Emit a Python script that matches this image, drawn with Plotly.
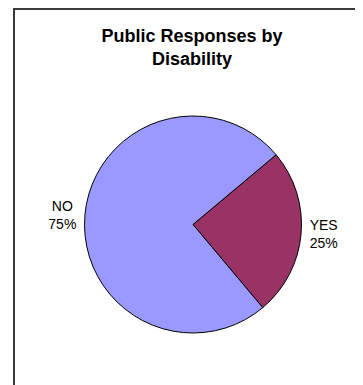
import plotly.graph_objects as go

labels = ["YES", "NO"]
values = [25, 75]
colors = ["#993366", "#9999FF"]
title_text = "Public Responses by<br>Disability"

W, H = 363, 385
FONT = "Liberation Sans, Arial, sans-serif"

# pie placement (figure pixels)
cx, cy, r = 185.0, 216.5, 108.5

fig = go.Figure(go.Pie(
    labels=labels,
    values=values,
    sort=False,
    direction="clockwise",
    rotation=50,
    marker=dict(colors=colors, line=dict(color="#000000", width=1)),
    textinfo="label+percent",
    textposition="outside",
    textfont=dict(family=FONT, size=14, color="#000000"),
    showlegend=False,
    hoverinfo="label+percent",
    domain=dict(x=[(cx - r) / W, (cx + r) / W], y=[1 - (cy + r) / H, 1 - (cy - r) / H]),
))

fig.update_layout(
    width=W, height=H,
    margin=dict(l=0, r=0, t=0, b=0, pad=0, autoexpand=False),
    paper_bgcolor="#FFFFFF",
    plot_bgcolor="#FFFFFF",
    font=dict(family=FONT, color="#000000"),
    title=dict(
        text="<b>" + title_text + "</b>",
        x=184 / W, xanchor="center", xref="container",
        y=1 - 34 / H, yanchor="top", yref="container",
        font=dict(size=18, family=FONT, color="#000000"),
    ),
    shapes=[dict(
        type="rect", xref="paper", yref="paper",
        x0=6 / W, x1=1.1, y0=-0.1, y1=1 - 1 / H,
        line=dict(color="#3a3a3a", width=2),
        fillcolor="rgba(0,0,0,0)",
    )],
)

fig.write_html("out.html")
